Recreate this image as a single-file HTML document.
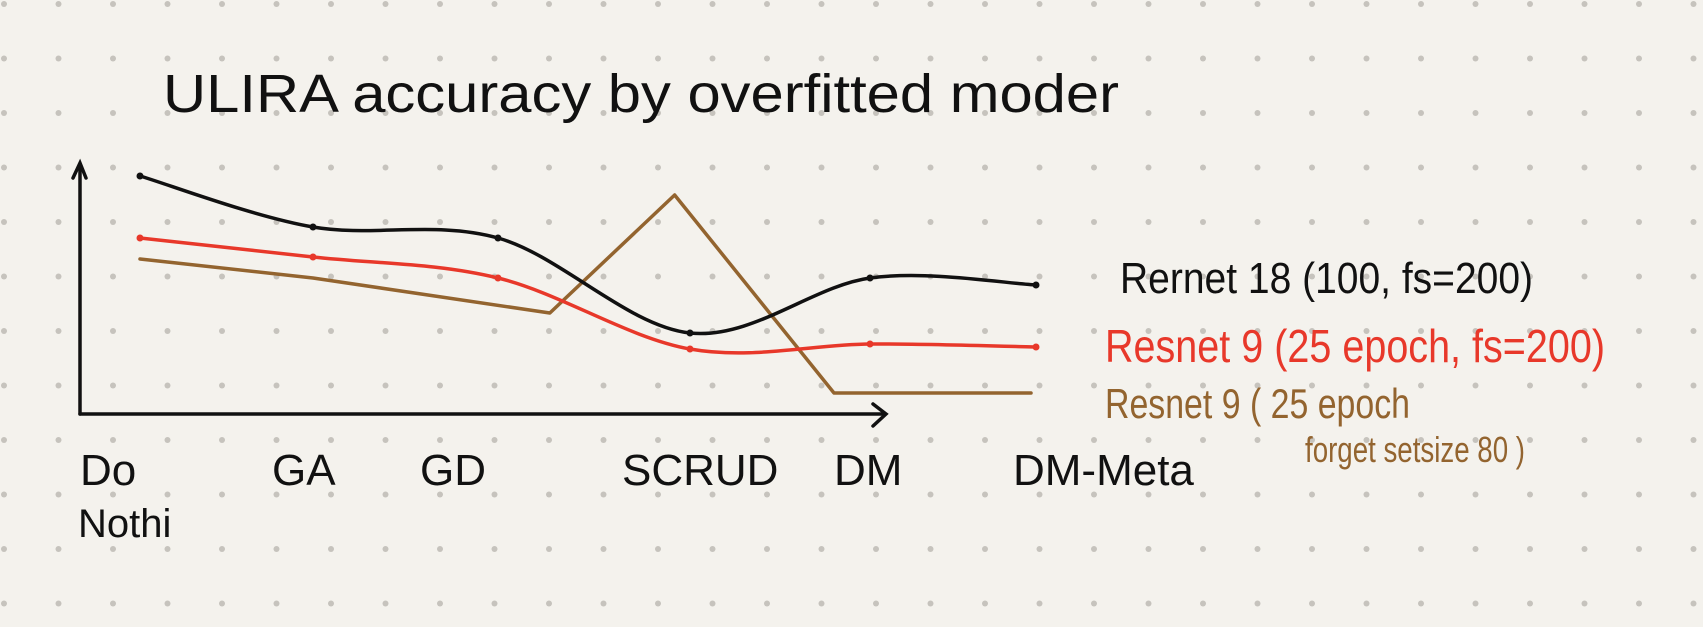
<!DOCTYPE html>
<html><head><meta charset="utf-8"><style>
html,body{margin:0;padding:0;background:#f4f2ed;}
svg{display:block;}
text{font-family:"Liberation Sans","DejaVu Sans",sans-serif;}
</style></head><body>
<svg id="chart" width="1703" height="627" viewBox="0 0 1703 627" xmlns="http://www.w3.org/2000/svg">
<defs><pattern id="dots" x="4" y="4" width="54.5" height="54.5" patternUnits="userSpaceOnUse"><circle cx="0" cy="0" r="3" fill="#c6c3bd"/><circle cx="54.5" cy="0" r="3" fill="#c6c3bd"/><circle cx="0" cy="54.5" r="3" fill="#c6c3bd"/><circle cx="54.5" cy="54.5" r="3" fill="#c6c3bd"/></pattern></defs>
<rect x="0" y="0" width="1703" height="627" fill="#f4f2ed"/>
<rect x="0" y="0" width="1703" height="627" fill="url(#dots)"/>
<text x="163" y="112" font-size="54" fill="#111" textLength="956" lengthAdjust="spacingAndGlyphs">ULIRA accuracy by overfitted moder</text>
<g stroke="#111" stroke-width="3.5" fill="none" stroke-linecap="round">
<line x1="80" y1="164" x2="80" y2="414"/><path d="M73 178 L80 163 L86 178"/></g>
<g stroke="#111" stroke-width="3.5" fill="none" stroke-linecap="round">
<line x1="80" y1="414" x2="885" y2="414"/><path d="M873 404 L886 414 L873 426"/></g>
<g id="xlabels"></g>
<g id="series"></g>
<text x="1120" y="293" font-size="44" fill="#111" textLength="413" lengthAdjust="spacingAndGlyphs">Rernet 18 (100, fs=200)</text>
<text x="1105" y="362" font-size="46" fill="#e8382a" textLength="500" lengthAdjust="spacingAndGlyphs">Resnet 9 (25 epoch, fs=200)</text>
<text x="1105" y="418" font-size="42" fill="#93642f" textLength="305" lengthAdjust="spacingAndGlyphs">Resnet 9 ( 25 epoch</text>
<text x="1305" y="462" font-size="36" fill="#93642f" textLength="220" lengthAdjust="spacingAndGlyphs">forget setsize 80 )</text>
</svg>
<script>
const categories = ["Do", "GA", "GD", "SCRUD", "DM", "DM-Meta"];
const resnet18 = [95.2, 74.8, 70.4, 32.4, 54.4, 51.6];
const resnet9fs200 = [70.4, 62.8, 54.4, 26, 28, 26.8];
const resnet9forgetIdx = [0, 1, 2.27, 2.92, 3.8, 4.97];
const resnet9forget = [62, 54.4, 40.4, 87.6, 8.4, 8.4];
const catX = [140, 313, 498, 690, 870, 1036];
function xScale(i){const a=Math.floor(Math.min(i,catX.length-2));const t=i-a;return catX[a]+(catX[a+1]-catX[a])*t;}
function yScale(v){return 414 - v*2.5;}
const NS="http://www.w3.org/2000/svg";
function smooth(pts){let d="M"+pts[0][0]+" "+pts[0][1];for(let i=0;i<pts.length-1;i++){const p0=pts[i-1]||pts[i],p1=pts[i],p2=pts[i+1],p3=pts[i+2]||p2;const c1=[p1[0]+(p2[0]-p0[0])/6,p1[1]+(p2[1]-p0[1])/6];const c2=[p2[0]-(p3[0]-p1[0])/6,p2[1]-(p3[1]-p1[1])/6];d+=" C"+c1[0]+" "+c1[1]+" "+c2[0]+" "+c2[1]+" "+p2[0]+" "+p2[1];}return d;}
const g=document.getElementById("series");
function addLine(vals,idx,color,name,curve){
  const pts=vals.map((v,i)=>[xScale(idx?idx[i]:i),yScale(v)]);
  const p=document.createElementNS(NS,"path");
  
  
  p.setAttribute("d",curve?smooth(pts):"M"+pts.map(q=>q.join(" ")).join(" L"));
  p.setAttribute("fill","none");p.setAttribute("stroke",color);p.setAttribute("stroke-width","3.5");p.setAttribute("stroke-linecap","round");p.setAttribute("stroke-linejoin","round");
  g.appendChild(p);
  if(curve){pts.forEach(q=>{const c=document.createElementNS(NS,"circle");
    
    
    c.setAttribute("cx",q[0]);c.setAttribute("cy",q[1]);c.setAttribute("r","3.5");c.setAttribute("fill",color);g.appendChild(c);});}
}
addLine(resnet9forget,resnet9forgetIdx,"#93642f","line-resnet9-forget80",false);
addLine(resnet9fs200,null,"#e8382a","line-resnet9-fs200",true);
addLine(resnet18,null,"#111","line-resnet18",true);
const xl=document.getElementById("xlabels");
const labelX=[80,272,420,622,834,1013];
categories.forEach((c,i)=>{const t=document.createElementNS(NS,"text");
  
  
  t.setAttribute("x",labelX[i]);t.setAttribute("y",485);t.setAttribute("font-size","44");t.setAttribute("fill","#111");t.textContent=c;xl.appendChild(t);});
const n=document.createElementNS(NS,"text");


n.setAttribute("x",78);n.setAttribute("y",537);n.setAttribute("font-size","40");n.setAttribute("fill","#111");n.textContent="Nothi";xl.appendChild(n);
</script>
</body></html>
